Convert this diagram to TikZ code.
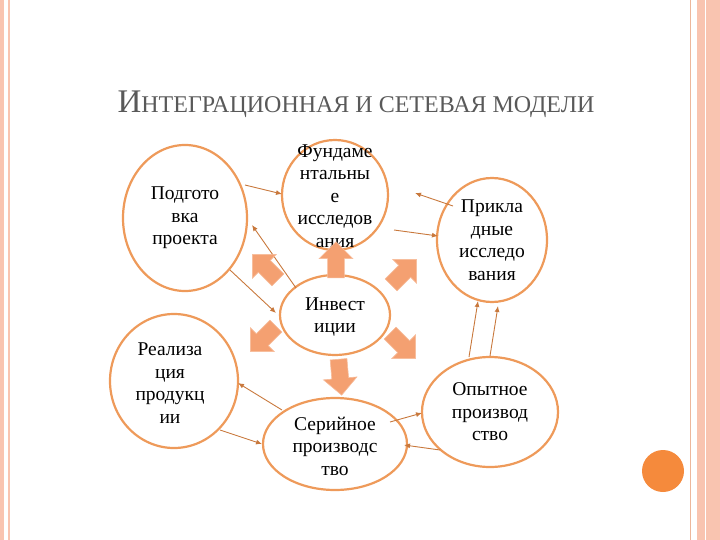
\documentclass[tikz,border=0pt]{standalone}
\usepackage{fontspec}
\setmainfont{Liberation Serif}
\usetikzlibrary{arrows.meta,shapes.geometric}
\definecolor{ell}{HTML}{EE9A5A}
\definecolor{con}{HTML}{C8783C}
\definecolor{blk}{HTML}{F4A071}
\definecolor{pinkb}{HTML}{F9C4B0}
\definecolor{dot}{HTML}{F58A3C}
\tikzset{
 el/.style={ellipse, draw=ell, line width=2.2pt, fill=white, inner sep=0pt},
 txt/.style={align=center, font=\fontsize{19.5}{22.5}\selectfont, inner sep=0pt},
 con/.style={draw=con, line width=0.9pt, -{Latex[length=6pt,width=5pt]}},
}
\newcommand{\blkarrow}[3]{\begin{scope}[shift={(#1,#2)},rotate=#3,scale=1.2]
 \fill[blk, draw=blk!70!white, line width=0.6pt] (-14,-7)--(2,-7)--(2,-14)--(16,0)--(2,14)--(2,7)--(-14,7)--cycle;
\end{scope}}
\begin{document}
\begin{tikzpicture}[x=1pt,y=-1pt]
\useasboundingbox (0,0) rectangle (720,540);
\fill[pinkb] (0,0) rectangle (4,540);
\draw[pinkb, line width=1.5pt] (9,0)--(9,540);
\draw[pinkb!80!brown, line width=1pt] (690,0)--(690,540);
\fill[pinkb] (697,0) rectangle (720,540);
\draw[white, line width=1pt] (705,0)--(705,540);
\fill[dot] (663,471) circle (21);
\node[text=black!65, font=\fontsize{33}{35}\selectfont] (title) at (356,104) {И{\fontsize{24}{26}\selectfont НТЕГРАЦИОННАЯ И СЕТЕВАЯ МОДЕЛИ}};
\node[el, minimum width=124pt, minimum height=146pt] (pod) at (185,218) {};
\node[txt] (podt) at (185,218) {Подгото\\вка\\проекта};
\node[el, minimum width=106pt, minimum height=110pt] (fun) at (335,195) {};
\node[txt] (funt) at (335,196) {Фундаме\\нтальны\\е\\исследов\\ания};
\node[el, minimum width=110pt, minimum height=124pt] (pri) at (492,240) {};
\node[txt] (prit) at (492,240) {Прикла\\дные\\исследо\\вания};
\node[el, minimum width=110pt, minimum height=80pt] (inv) at (335,315) {};
\node[txt] (invt) at (335,317) {Инвест\\иции};
\node[el, minimum width=128pt, minimum height=134pt] (rea) at (174,381) {};
\node[txt] (reat) at (170,383) {Реализа\\ция\\продукц\\ии};
\node[el, minimum width=144pt, minimum height=92pt] (ser) at (335,444) {};
\node[txt] (sert) at (335,446) {Серийное\\производс\\тво};
\node[el, minimum width=136pt, minimum height=110pt] (opy) at (490,412) {};
\node[txt] (opyt) at (490,412) {Опытное\\производ\\ство};
\coordinate (a1) at (245,185); \coordinate (a2) at (282,194);
\draw[con] (a1)--(a2);
\coordinate (b1) at (296,288); \coordinate (b2) at (252,225);
\draw[con] (b1)--(b2);
\coordinate (c1) at (230,270); \coordinate (c2) at (276,313);
\draw[con] (c1)--(c2);
\coordinate (d1) at (453,206); \coordinate (d2) at (415,193);
\draw[con] (d1)--(d2);
\coordinate (e1) at (394,230); \coordinate (e2) at (438,236);
\draw[con] (e1)--(e2);
\coordinate (f1) at (469,357); \coordinate (f2) at (478,301);
\draw[con] (f1)--(f2);
\coordinate (g1) at (490,356); \coordinate (g2) at (498,306);
\draw[con] (g1)--(g2);
\coordinate (h1) at (390,422); \coordinate (h2) at (422,413);
\draw[con] (h1)--(h2);
\coordinate (i1) at (440,450); \coordinate (i2) at (404,445);
\draw[con] (i1)--(i2);
\coordinate (j1) at (282,410); \coordinate (j2) at (238,383);
\draw[con] (j1)--(j2);
\coordinate (k1) at (220,430); \coordinate (k2) at (262,444);
\draw[con] (k1)--(k2);
\blkarrow{336}{261}{90}
\blkarrow{266}{268}{135}
\blkarrow{403}{273}{45}
\blkarrow{264}{338}{-135}
\blkarrow{402}{345}{-45}
\blkarrow{340}{376}{-85}
\end{tikzpicture}
\end{document}
